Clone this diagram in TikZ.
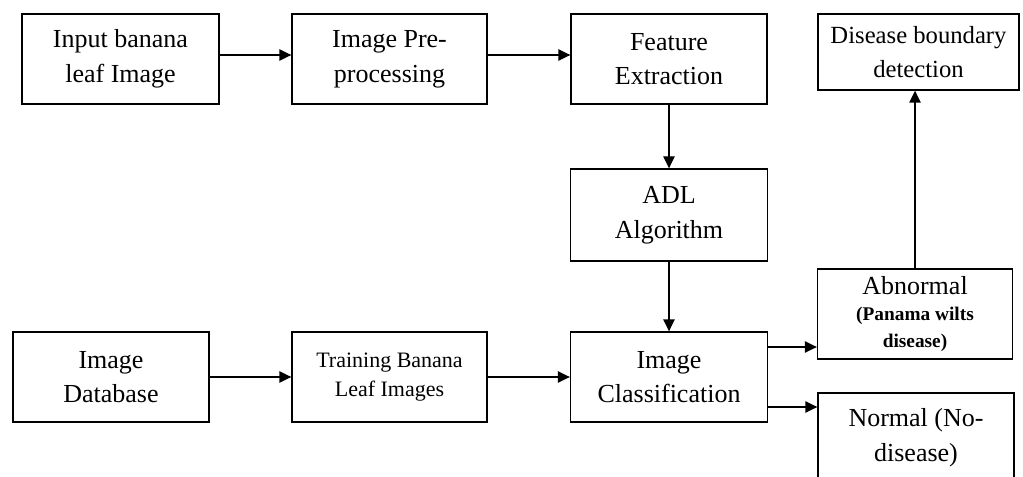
\documentclass[tikz,border=0pt]{standalone}
\usepackage{fontspec}
\setmainfont{Liberation Serif}
\usetikzlibrary{arrows.meta}
\newcommand\boldnote[1]{{\fontsize{14.5}{18}\selectfont\bfseries #1}}
\begin{document}
\begin{tikzpicture}[x=0.75pt,y=-0.75pt,
  box/.style n args={2}{draw, line width=1pt, rectangle, inner sep=0pt,
    minimum width={#1*0.75pt}, minimum height={#2*0.75pt}, align=center,
    font=\fontsize{19.5}{26}\selectfont},
  small/.style={font=\fontsize{16.5}{22}\selectfont},
  arr/.style={line width=1pt, -{Triangle[length=9pt,width=8.5pt]}}]
\useasboundingbox (0,0) rectangle (1023,477);
\clip (0,0) rectangle (1023,477);

% top row
\node[box={197}{90}] (in)   at (120.5,59) {Input banana\\leaf Image};
\node[box={195}{90}] (pre)  at (389.5,59) {Image Pre-\\processing};
\node[box={196}{90}] (feat) at (669,59)   {Feature\\Extraction};
\node[box={201}{76}, font=\fontsize{18.5}{26}\selectfont] (dis) at (918.5,52)
  {Disease boundary\\detection};

% middle
\node[box={197}{92}] (adl)  at (669,215) {ADL\\Algorithm};
\node[box={195}{90}] (abn)  at (915,314)
  {Abnormal\\[-6pt]\boldnote{(Panama wilts}\\[-6pt]\boldnote{disease)}};

% bottom row
\node[box={196}{90}] (db)   at (111,377)   {Image\\Database};
\node[box={195}{90}, small] (tr) at (389.5,377) {Training Banana\\Leaf Images};
\node[box={197}{90}] (cls)  at (669,377) {Image\\Classification};
\node[box={196}{90}] (nor)  at (916,438)   {Normal (No-\\disease)};

% connectors
\draw[arr] (in.east |- 0,55)  -- (pre.west |- 0,55);
\draw[arr] (pre.east |- 0,55) -- (feat.west |- 0,55);
\draw[arr] (feat.south) -- (adl.north);
\draw[arr] (adl.south)  -- (cls.north);
\draw[arr] (db.east)  -- (tr.west);
\draw[arr] (tr.east)  -- (cls.west);
\draw[arr] (cls.east |- 0,347) -- (abn.west |- 0,347);
\draw[arr] (cls.east |- 0,407) -- (nor.west |- 0,407);
\draw[arr] (abn.north) -- (abn.north |- dis.south);
\end{tikzpicture}
\end{document}
